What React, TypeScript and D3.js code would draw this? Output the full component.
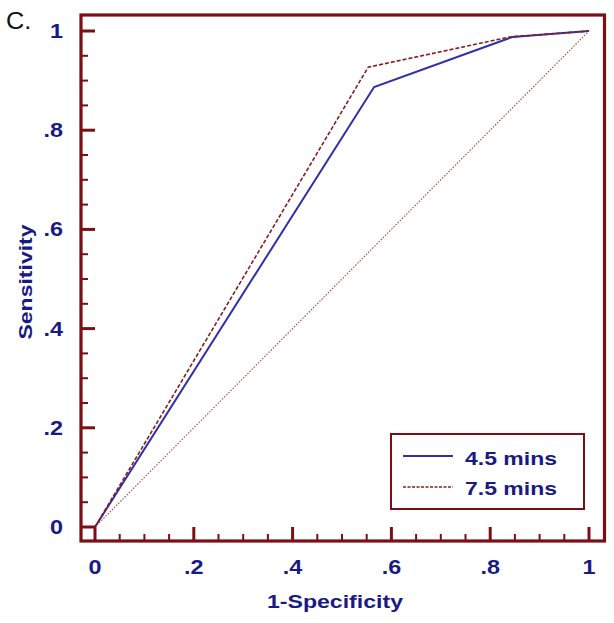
import React from "react";
import * as d3 from "d3";

const fpr45 = [0, 0.565, 0.845, 1];
const tpr45 = [0, 0.887, 0.988, 1];
const fpr75 = [0, 0.553, 0.84, 1];
const tpr75 = [0, 0.927, 0.988, 1];
const diagX = [0, 1];
const diagY = [0, 1];
const majorTicks = [0, 0.2, 0.4, 0.6, 0.8, 1];
const tickLabels = ["0", ".2", ".4", ".6", ".8", "1"];
const minorTicks = d3.range(0, 1.0001, 0.05);
const legendLabels = ["4.5 mins", "7.5 mins"];

const W = 614, H = 623;
const frameC = "#7a0f14";
const navy = "#1a1a86";
const blue = "#3030a8";
const red = "#8a1e1e";
const font = "'Liberation Sans', Arial, sans-serif";

export default function App() {
  const x = d3.scaleLinear().domain([0, 1]).range([95, 589]);
  const y = d3.scaleLinear().domain([0, 1]).range([527, 31]);
  const line = (xs: number[], ys: number[]) =>
    d3.line<number>().x((_, i) => x(xs[i])).y((_, i) => y(ys[i]))(xs) || "";
  const L = 81, T = 15, R = 604.5, B = 541;
  return (
    <svg width={W} height={H} style={{ position: "absolute", left: 0, top: 0, background: "#fff" }}>
      <text transform="translate(6,29) scale(1.1,1)" fontFamily={font} fontSize={23} fill="#111">C.</text>
      {/* diagonal */}
      <path d={line(diagX, diagY)} fill="none" stroke="#a84848" strokeWidth={1.1} strokeDasharray="1.5,1.5" />
      <path d={line(fpr45, tpr45)} fill="none" stroke={blue} strokeWidth={2} />
      <path d={line(fpr75, tpr75)} fill="none" stroke={red} strokeWidth={1.6} strokeDasharray="4,2" />
      {/* frame */}
      <rect x={L} y={T} width={R - L} height={B - T} fill="none" stroke={frameC} strokeWidth={3.2} />
      {/* ticks */}
      {minorTicks.map((t, i) => {
        const major = Math.abs(t * 5 - Math.round(t * 5)) < 1e-6;
        const len = major ? 14 : 7;
        return (
          <g key={i}>
            <line x1={L} x2={L + len} y1={y(t)} y2={y(t)} stroke={frameC} strokeWidth={major ? 3 : 2} />
            <line x1={x(t)} x2={x(t)} y1={B} y2={B - len} stroke={frameC} strokeWidth={major ? 3 : 2} />
          </g>
        );
      })}
      {majorTicks.map((t, i) => (
        <g key={"l" + i} fontFamily={font} fontWeight="bold" fontSize={19.5} fill={navy}>
          <text transform={`translate(63,${y(t) + 7}) scale(1.2,1)`} textAnchor="end">{tickLabels[i]}</text>
          <text transform={`translate(${x(t)},574) scale(1.2,1)`} textAnchor="middle">{tickLabels[i]}</text>
        </g>
      ))}
      <text x={335} y={608} textAnchor="middle" fontFamily={font} fontWeight="bold" fontSize={19} fill={navy}
        textLength={136} lengthAdjust="spacingAndGlyphs">1-Specificity</text>
      <text transform="translate(32,282) rotate(-90)" textAnchor="middle" fontFamily={font} fontWeight="bold" fontSize={19} fill={navy}
        textLength={115} lengthAdjust="spacingAndGlyphs">Sensitivity</text>
      {/* legend */}
      <rect x={391} y={434} width={193} height={75} fill="#fff" stroke={frameC} strokeWidth={2} />
      <line x1={403} x2={453} y1={456} y2={456} stroke={blue} strokeWidth={2} />
      <line x1={403} x2={453} y1={487} y2={487} stroke={red} strokeWidth={1.5} strokeDasharray="3,1.5" />
      {legendLabels.map((s, i) => (
        <text key={s} x={465} y={465 + i * 30} fontFamily={font} fontWeight="bold" fontSize={19} fill={navy}
          textLength={92} lengthAdjust="spacingAndGlyphs">{s}</text>
      ))}
    </svg>
  );
}
